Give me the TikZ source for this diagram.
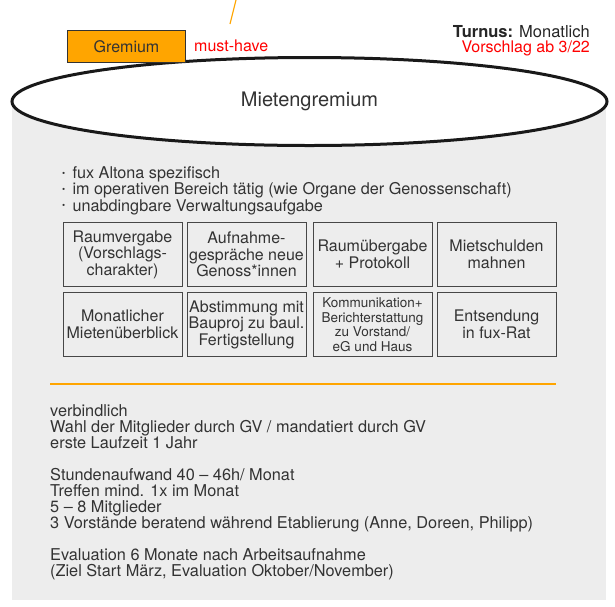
\documentclass[tikz,border=0pt]{standalone}
\usepackage{fontspec}
\setmainfont{TeX Gyre Heros}
\usetikzlibrary{shapes.geometric}
\definecolor{txt}{HTML}{333333}
\definecolor{panel}{HTML}{EDEDED}
\definecolor{orng}{HTML}{FFA500}
\newcommand{\bul}{\raisebox{0.3ex}{\scalebox{0.55}{•}}\hspace{0.45em}}
\tikzset{
  task/.style={draw=txt!90, line width=0.9pt, fill=panel, minimum width=119pt, minimum height=64pt, align=center, text=txt, font=\fontsize{16}{16.5}\selectfont, inner sep=1pt},
  plain/.style={anchor=north west, align=left, text=txt, inner sep=0pt}
}
\begin{document}
\begin{tikzpicture}[x=1pt,y=-1pt]
\useasboundingbox (0,0) rectangle (615,606);
\fill[panel] (12,102) rectangle (606,600);
\coordinate (mc) at (309.5,101.5);
\draw[black!90, line width=3pt, fill=white] (mc) ellipse [x radius=297.5pt, y radius=44pt];
\node[font=\fontsize{20}{22}\selectfont, text=txt, inner sep=0pt] (main) at (mc) {Mietengremium};
\node[draw=txt, line width=1.6pt, fill=orng, minimum width=118pt, minimum height=32pt, inner sep=0pt, text=txt, font=\fontsize{16}{18}\selectfont] (grem) at (126.5,46.5) {Gremium};
\coordinate (topend) at (236,0);
\coordinate (lineend) at (230,24);
\draw[orng, line width=1.2pt] (topend) -- (lineend);
\node[anchor=west, text=red, inner sep=0pt, font=\fontsize{16}{18}\selectfont] (must) at (194,46) {must-have};
\node[anchor=base east, inner sep=0pt, text=black!85, font=\fontsize{16.5}{18}\selectfont] (turnus) at (590,37) {\textbf{Turnus:} Monatlich};
\node[anchor=base east, inner sep=0pt, text=red, font=\fontsize{16}{18}\selectfont] (vorschlag) at (590,52) {Vorschlag ab 3/22};
\node[plain, font=\fontsize{16.2}{16.3}\selectfont] (bullets) at (62,166.5) {\bul fux Altona spezifisch\\\bul im operativen Bereich tätig (wie Organe der Genossenschaft)\\\bul unabdingbare Verwaltungsaufgabe};
\node[task] (b1) at (122.5,254.5) {Raumvergabe\\(Vorschlags-\\charakter)};
\node[task] (b2) at (246.5,254.5) {Aufnahme-\\gespräche neue\\Genoss*innen};
\node[task] (b3) at (372.5,254.5) {Raumübergabe\\+ Protokoll};
\node[task] (b4) at (496.5,254.5) {Mietschulden\\mahnen};
\node[task] (b5) at (122.5,324.5) {Monatlicher\\Mietenüberblick};
\node[task] (b6) at (246.5,324.5) {Abstimmung mit\\Bauproj zu baul.\\Fertigstellung};
\node[task, font=\fontsize{13.5}{14.5}\selectfont] (b7) at (372.5,324.5) {Kommunikation+\\Berichterstattung\\zu Vorstand/\\eG und Haus};
\node[task] (b8) at (496.5,324.5) {Entsendung\\in fux-Rat};
\coordinate (sepL) at (50,384);
\coordinate (sepR) at (556,384);
\draw[orng, line width=1.6pt] (sepL) -- (sepR);
\node[plain, font=\fontsize{16.3}{16}\selectfont] (info) at (50,404) {verbindlich\\Wahl der Mitglieder durch GV / mandatiert durch GV\\erste Laufzeit 1 Jahr\\[16pt]Stundenaufwand 40 – 46h/ Monat\\Treffen mind. 1x im Monat\\5 – 8 Mitglieder\\3 Vorstände beratend während Etablierung (Anne, Doreen, Philipp)\\[16pt]Evaluation 6 Monate nach Arbeitsaufnahme\\(Ziel Start März, Evaluation Oktober/November)};
\end{tikzpicture}
\end{document}
